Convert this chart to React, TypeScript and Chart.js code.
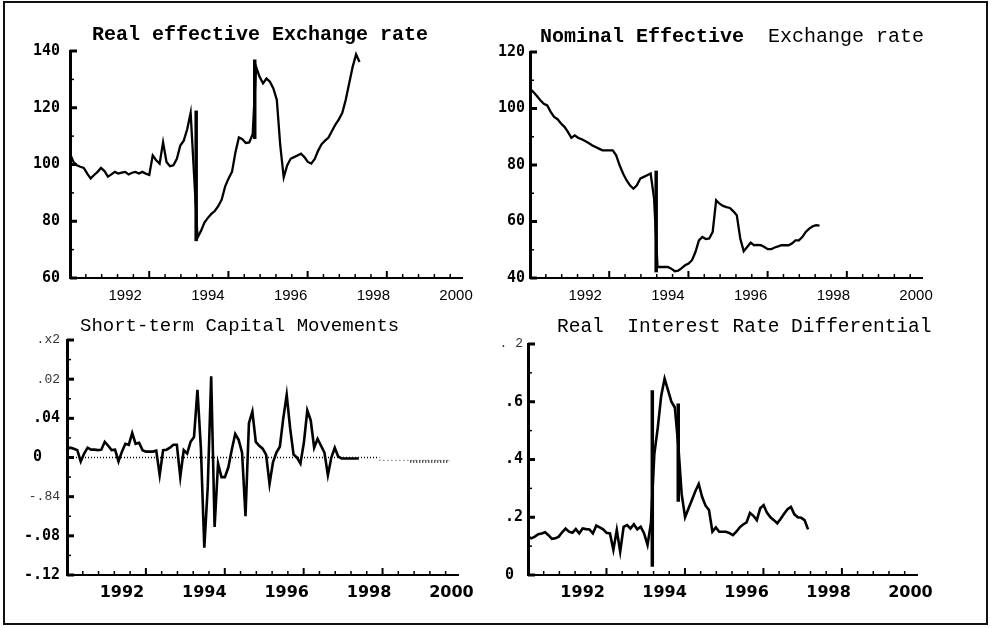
import React, { useEffect, useRef } from "react";
import { Chart, registerables } from "chart.js";

Chart.register(...registerables);

// ---------- time axis ----------
const START_YEAR = 1990 + 8 / 12; // first monthly observation
const X_MIN = START_YEAR;
const X_MAX = 2000 + 2 / 12;
const yearLabels = [1992, 1994, 1996, 1998, 2000];

// ---------- Real effective exchange rate (monthly) ----------
const realEffective = [
  103.8, 100.9, 99.7, 99.2, 98.8, 96.8, 95.1, 96.3, 97.4, 98.8,
  97.7, 95.7, 96.5, 97.4, 96.8, 97.1, 97.4, 96.5, 97.1, 97.4,
  96.8, 97.4, 96.8, 96.3, 103.2, 101.5, 100.3, 107.8, 100.9, 99.4,
  99.7, 102, 106.7, 108.4, 112.4, 118.2, 96.3, 74.3, 76.6, 79.5,
  81.2, 82.6, 83.6, 85.3, 87.6, 92.2, 95.1, 97.4, 104.3, 109.5,
  108.9, 107.6, 107.8, 110.7, 134.4, 130.9, 128.6, 130.3, 129.2, 126.8,
  122.8, 106.7, 95.5, 99.7, 102, 102.6, 103.2, 103.8, 102.6, 100.9,
  100.3, 102, 104.9, 107.2, 108.4, 109.5, 111.8, 114.1, 115.9, 118.2,
  122.8, 128.6, 134.4, 138.8, 136.1,
];
const realBreakYears = [1993.717, 1995.133];
const realBreakLow = [73, 109];
const realBreakHigh = [119, 137];
const realTicks = [60, 80, 100, 120, 140];

// ---------- Nominal effective exchange rate (monthly) ----------
const nominalEffective = [
  107.0, 105.8, 104.4, 102.9, 101.7, 101.1, 98.8, 97.0, 96.2, 94.7,
  93.5, 91.7, 89.6, 90.5, 89.6, 89.1, 88.5, 87.8, 87.0, 86.4,
  85.8, 85.2, 85.2, 85.2, 85.2, 83.4, 79.9, 77.0, 74.6, 72.8,
  71.6, 72.8, 75.2, 75.8, 76.4, 77.0, 68.1, 43.9, 43.9, 43.9,
  43.9, 43.3, 42.4, 42.6, 43.5, 44.5, 45.1, 46.3, 49.2, 53.3,
  54.5, 53.8, 54.0, 56.3, 67.5, 66.3, 65.5, 65.1, 64.8, 63.6,
  62.2, 54.0, 49.5, 51.0, 52.5, 51.6, 51.7, 51.6, 51.0, 50.2,
  50.2, 50.8, 51.2, 51.6, 51.6, 51.6, 52.2, 53.3, 53.3, 54.5,
  56.3, 57.5, 58.3, 58.7, 58.5,
];
const nominalBreakYears = [1993.717];
const nominalBreakLow = [42];
const nominalBreakHigh = [78];
const nominalTicks = [40, 60, 80, 100, 120];

// ---------- Short-term capital movements (monthly) ----------
const capitalMovements = [
  0.009, 0.01, 0.009, 0.0075, -0.004, 0.004, 0.01, 0.008, 0.008, 0.0075,
  0.008, 0.016, 0.012, 0.0075, 0.008, -0.004, 0.006, 0.014, 0.013, 0.025,
  0.014, 0.015, 0.0075, 0.006, 0.006, 0.006, 0.007, -0.018, 0.0075, 0.008,
  0.01, 0.013, 0.013, -0.02, 0.0075, 0.004, 0.016, 0.021, 0.069, 0.01,
  -0.092, -0.03, 0.083, -0.071, -0.006, -0.02, -0.02, -0.01, 0.008, 0.024,
  0.018, 0.005, -0.06, 0.035, 0.047, 0.016, 0.012, 0.009, 0.003, -0.027,
  -0.005, 0.005, 0.011, 0.04, 0.064, 0.03, 0.003, 0.0, -0.006, 0.015,
  0.048, 0.038, 0.01, 0.019, 0.012, 0.005, -0.018, 0.0, 0.01, 0.001,
  -0.001, -0.001, -0.001, -0.001, -0.001, -0.001,
];
const capitalZeroYears = [START_YEAR, 1998.25];
const capitalZeroValues = [0, 0];
const capitalTailYears = [1998.25, 1999.95];
const capitalTailValues = [-0.003, -0.003];
const capitalDenseYears = [1999.0, 1999.95];
const capitalDenseValues = [-0.004, -0.004];
const capitalTickValues = [-0.12, -0.08, -0.04, 0, 0.04, 0.08, 0.12];
const capitalTickLabels = ["-.12", "-.08", "-.84", "0  ", ".04", ".02", ".x2"];
const capitalLightTicks = [2, 5, 6];

// ---------- Real interest rate differential (monthly) ----------
const interestDiff = [
  0.133, 0.127, 0.133, 0.141, 0.144, 0.148, 0.138, 0.125, 0.127, 0.133,
  0.148, 0.161, 0.15, 0.146, 0.159, 0.144, 0.161, 0.159, 0.158, 0.144,
  0.171, 0.165, 0.158, 0.146, 0.144, 0.087, 0.156, 0.081, 0.167, 0.173,
  0.161, 0.176, 0.158, 0.167, 0.144, 0.104, 0.179, 0.42, 0.51, 0.62,
  0.68, 0.64, 0.6, 0.58, 0.45, 0.28, 0.2, 0.23, 0.26, 0.29,
  0.315, 0.27, 0.24, 0.225, 0.15, 0.165, 0.15, 0.15, 0.15, 0.145,
  0.138, 0.15, 0.165, 0.175, 0.182, 0.215, 0.205, 0.19, 0.231, 0.242,
  0.215, 0.2, 0.19, 0.179, 0.195, 0.212, 0.228, 0.236, 0.21, 0.2,
  0.198, 0.19, 0.158,
];
const interestBreakYears = [1993.7, 1994.333];
const interestBreakLow = [0.029, 0.254];
const interestBreakHigh = [0.64, 0.594];
const interestTickValues = [0, 0.2, 0.4, 0.6, 0.8];
const interestTickLabels = ["0 ", ".2", ".4", ".6", ". 2"];
const interestLightTicks = [4];

// ---------- helpers ----------
const AX_W = 65;
const AX_H = 35;
const PAD_T = 15;
const PAD_R = 15;

const monthly = (values: number[]) =>
  values.map((v, i) => ({ x: START_YEAR + i / 12, y: v }));

const lineDs = (values: number[], width = 2.3) => ({
  data: monthly(values),
  borderColor: "#000",
  borderWidth: width,
  pointRadius: 0,
  tension: 0,
  fill: false,
});

const pairDs = (xs: number[], ys: number[], color: string, width: number, dash: number[]) => ({
  data: xs.map((x, k) => ({ x, y: ys[k] })),
  borderColor: color,
  borderWidth: width,
  borderDash: dash,
  pointRadius: 0,
  fill: false,
});

const breakDs = (years: number[], lo: number[], hi: number[]) =>
  years.map((b, k) => ({
    data: [
      { x: b, y: lo[k] },
      { x: b, y: hi[k] },
    ],
    borderColor: "#000",
    borderWidth: 3.5,
    pointRadius: 0,
    fill: false,
  }));

const stubsPlugin = {
  id: "stubs",
  afterDraw(chart: any, _args: any, opts: any) {
    const { ctx, chartArea, scales } = chart;
    const xs = scales.x;
    const ys = scales.y;
    ctx.save();
    ctx.strokeStyle = "#000";
    const n = Math.round((ys.max - ys.min) / opts.yStep);
    for (let k = 0; k <= n; k++) {
      const v = ys.min + k * opts.yStep;
      const py = ys.getPixelForValue(v);
      const major = k % opts.yMajorEvery === 0;
      ctx.lineWidth = major ? 3 : 1.5;
      ctx.beginPath();
      ctx.moveTo(chartArea.left, py);
      ctx.lineTo(chartArea.left + (major ? 7 : 4), py);
      ctx.stroke();
    }
    for (let k = 1; ; k++) {
      const t = xs.min + k * opts.xStep;
      if (t > xs.max + 1e-9) break;
      const px = xs.getPixelForValue(t);
      const major = k % 5 === 0;
      ctx.lineWidth = major ? 2 : 1.5;
      ctx.beginPath();
      ctx.moveTo(px, chartArea.bottom);
      ctx.lineTo(px, chartArea.bottom - (major ? 7 : 4));
      ctx.stroke();
    }
    ctx.restore();
  },
};

type PanelSpec = {
  datasets: any[];
  yMin: number;
  yMax: number;
  yTicks: number[];
  yLabels: string[];
  yLight: number[];
  yPad: number;
  yFontSize: number;
  yStep: number;
  yMajorEvery: number;
  xFont: any;
  xPad: number;
};

function makeConfig(p: PanelSpec): any {
  return {
    type: "line",
    data: { datasets: p.datasets },
    plugins: [stubsPlugin],
    options: {
      responsive: false,
      animation: false,
      events: [],
      layout: {
        padding: { top: PAD_T, right: PAD_R, left: 0, bottom: 0 },
        autoPadding: false,
      },
      plugins: {
        legend: { display: false },
        tooltip: { enabled: false },
        stubs: { yStep: p.yStep, yMajorEvery: p.yMajorEvery, xStep: 0.383 },
      },
      scales: {
        x: {
          type: "linear",
          min: X_MIN,
          max: X_MAX,
          afterBuildTicks: (s: any) => {
            s.ticks = yearLabels.map((v) => ({ value: v }));
          },
          afterFit: (s: any) => {
            s.height = AX_H;
          },
          ticks: {
            autoSkip: false,
            maxRotation: 0,
            padding: p.xPad,
            color: "#000",
            font: p.xFont,
            callback: (v: number) => String(v),
          },
          grid: { display: true, drawOnChartArea: false, drawTicks: false },
          border: { display: true, color: "#000", width: 2 },
        },
        y: {
          type: "linear",
          min: p.yMin,
          max: p.yMax,
          afterBuildTicks: (s: any) => {
            s.ticks = p.yTicks.map((v) => ({ value: v }));
          },
          afterFit: (s: any) => {
            s.width = AX_W;
          },
          ticks: {
            autoSkip: false,
            padding: p.yPad,
            color: (c: any) => (p.yLight.includes(c.index) ? "#333" : "#000"),
            font: (c: any) =>
              p.yLight.includes(c.index)
                ? { family: "'Liberation Mono', monospace", size: 13, weight: "normal" }
                : { family: "'DejaVu Sans Mono', monospace", size: p.yFontSize, weight: "bold" },
            callback: (_v: number, i: number) => p.yLabels[i],
          },
          grid: { display: true, drawOnChartArea: false, drawTicks: false },
          border: { display: true, color: "#000", width: 3 },
        },
      },
    },
  };
}

const lightX = { family: "'Liberation Sans', Arial, sans-serif", size: 15, weight: "normal" };
const boldX = { family: "'DejaVu Sans', sans-serif", size: 16, weight: "bold" };

const panel1 = makeConfig({
  datasets: [lineDs(realEffective), ...breakDs(realBreakYears, realBreakLow, realBreakHigh)],
  yMin: 60,
  yMax: 140,
  yTicks: realTicks,
  yLabels: realTicks.map(String),
  yLight: [],
  yPad: 10,
  yFontSize: 15,
  yStep: 10,
  yMajorEvery: 2,
  xFont: lightX,
  xPad: 9,
});

const panel2 = makeConfig({
  datasets: [lineDs(nominalEffective), ...breakDs(nominalBreakYears, nominalBreakLow, nominalBreakHigh)],
  yMin: 40,
  yMax: 120,
  yTicks: nominalTicks,
  yLabels: nominalTicks.map(String),
  yLight: [],
  yPad: 5,
  yFontSize: 15,
  yStep: 10,
  yMajorEvery: 2,
  xFont: lightX,
  xPad: 9,
});

const panel3 = makeConfig({
  datasets: [
    lineDs(capitalMovements, 2.6),
    pairDs(capitalZeroYears, capitalZeroValues, "#000", 1.4, [1, 2]),
    pairDs(capitalTailYears, capitalTailValues, "#555", 1.2, [1, 3]),
    pairDs(capitalDenseYears, capitalDenseValues, "#222", 3, [1, 2]),
  ],
  yMin: -0.12,
  yMax: 0.12,
  yTicks: capitalTickValues,
  yLabels: capitalTickLabels,
  yLight: capitalLightTicks,
  yPad: 7,
  yFontSize: 15,
  yStep: 0.02,
  yMajorEvery: 2,
  xFont: boldX,
  xPad: 8,
});

const panel4 = makeConfig({
  datasets: [lineDs(interestDiff, 2.6), ...breakDs(interestBreakYears, interestBreakLow, interestBreakHigh)],
  yMin: 0,
  yMax: 0.8,
  yTicks: interestTickValues,
  yLabels: interestTickLabels,
  yLight: interestLightTicks,
  yPad: 5,
  yFontSize: 15,
  yStep: 0.1,
  yMajorEvery: 2,
  xFont: boldX,
  xPad: 8,
});

function Panel({ left, top, width, height, config }: any) {
  const ref = useRef<HTMLCanvasElement | null>(null);
  useEffect(() => {
    if (!ref.current) return;
    const chart = new Chart(ref.current, config);
    return () => chart.destroy();
  }, [config]);
  return (
    <canvas
      ref={ref}
      width={width}
      height={height}
      style={{ position: "absolute", left, top, width, height }}
    />
  );
}

const titleBase: React.CSSProperties = {
  position: "absolute",
  whiteSpace: "pre",
  lineHeight: "20px",
  color: "#000",
  fontFamily: "'Liberation Mono', 'Courier New', monospace",
};

export default function App() {
  return (
    <div
      style={{
        position: "absolute",
        left: 0,
        top: 0,
        width: 990,
        height: 628,
        background: "#fff",
        overflow: "hidden",
      }}
    >
      <div
        style={{
          position: "absolute",
          left: 3,
          top: 1,
          width: 985,
          height: 624,
          border: "2px solid #111",
          boxSizing: "border-box",
        }}
      />
      <Panel left={5} top={32} width={477} height={281} config={panel1} />
      <Panel left={465} top={37} width={477} height={276} config={panel2} />
      <Panel left={2} top={325} width={480} height={285} config={panel3} />
      <Panel left={463} top={329} width={478} height={281} config={panel4} />

      <div style={{ ...titleBase, left: 92, top: 25, fontSize: 20, fontWeight: "bold" }}>
        Real effective Exchange rate
      </div>
      <div style={{ ...titleBase, left: 540, top: 27, fontSize: 20 }}>
        <span style={{ fontWeight: "bold" }}>Nominal Effective</span>
        {"  Exchange rate"}
      </div>
      <div style={{ ...titleBase, left: 80, top: 316, fontSize: 19 }}>
        Short-term Capital Movements
      </div>
      <div style={{ ...titleBase, left: 557, top: 317, fontSize: 19.5 }}>
        {"Real  Interest Rate Differential"}
      </div>
    </div>
  );
}
